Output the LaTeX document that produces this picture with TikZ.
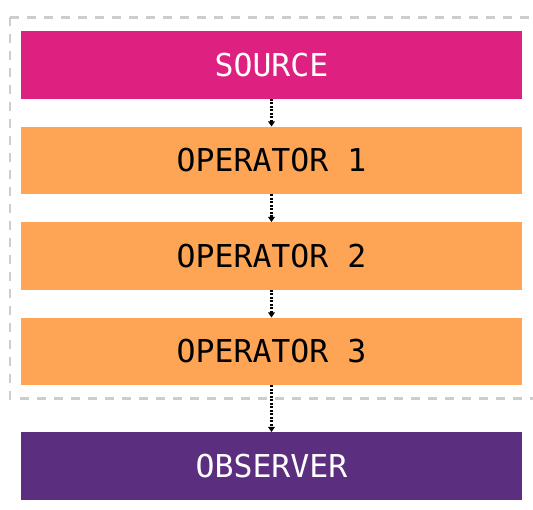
\documentclass[tikz,border=0pt]{standalone}
\usepackage{fontspec}
\newfontfamily\monofont{DejaVu Sans Mono}
\usetikzlibrary{arrows.meta}
\definecolor{srcmag}{RGB}{222,32,128}
\definecolor{oporange}{RGB}{254,164,85}
\definecolor{obspurple}{RGB}{91,46,128}
\definecolor{dashgrey}{RGB}{205,205,205}
\tikzset{
  blockbox/.style={draw=none, minimum width=501pt, minimum height=67.5pt, inner sep=0pt, font=\monofont\fontsize{31.5}{36}\selectfont, anchor=north},
  srcbox/.style={blockbox, fill=srcmag, text=white},
  opbox/.style={blockbox, fill=oporange, text=black},
  obsbox/.style={blockbox, fill=obspurple, text=white},
  flow/.style={draw=black, line width=2.2pt, dash pattern=on 2pt off 1.5pt, -{Triangle[length=5pt,width=6.5pt]}},
  groupframe/.style={draw=dashgrey, line width=2.5pt, dash pattern=on 8.5pt off 8.5pt}
}
\begin{document}
\begin{tikzpicture}[x=1pt,y=-1pt]
\useasboundingbox (0,0) rectangle (533,510);
\draw[groupframe] (10,17.5) -- (540,17.5);
\draw[groupframe] (10,17.5) -- (10,398.5) -- (540,398.5);
\node[srcbox] (src) at (271.5,31) {SOURCE};
\node[opbox] (op1) at (271.5,126.5) {OPERATOR 1};
\node[opbox] (op2) at (271.5,222) {OPERATOR 2};
\node[opbox] (op3) at (271.5,317.5) {OPERATOR 3};
\node[obsbox] (obs) at (271.5,432) {OBSERVER};
\draw[flow] (src.south) -- (op1.north);
\draw[flow] (op1.south) -- (op2.north);
\draw[flow] (op2.south) -- (op3.north);
\draw[flow] (op3.south) -- (obs.north);
\end{tikzpicture}
\end{document}
